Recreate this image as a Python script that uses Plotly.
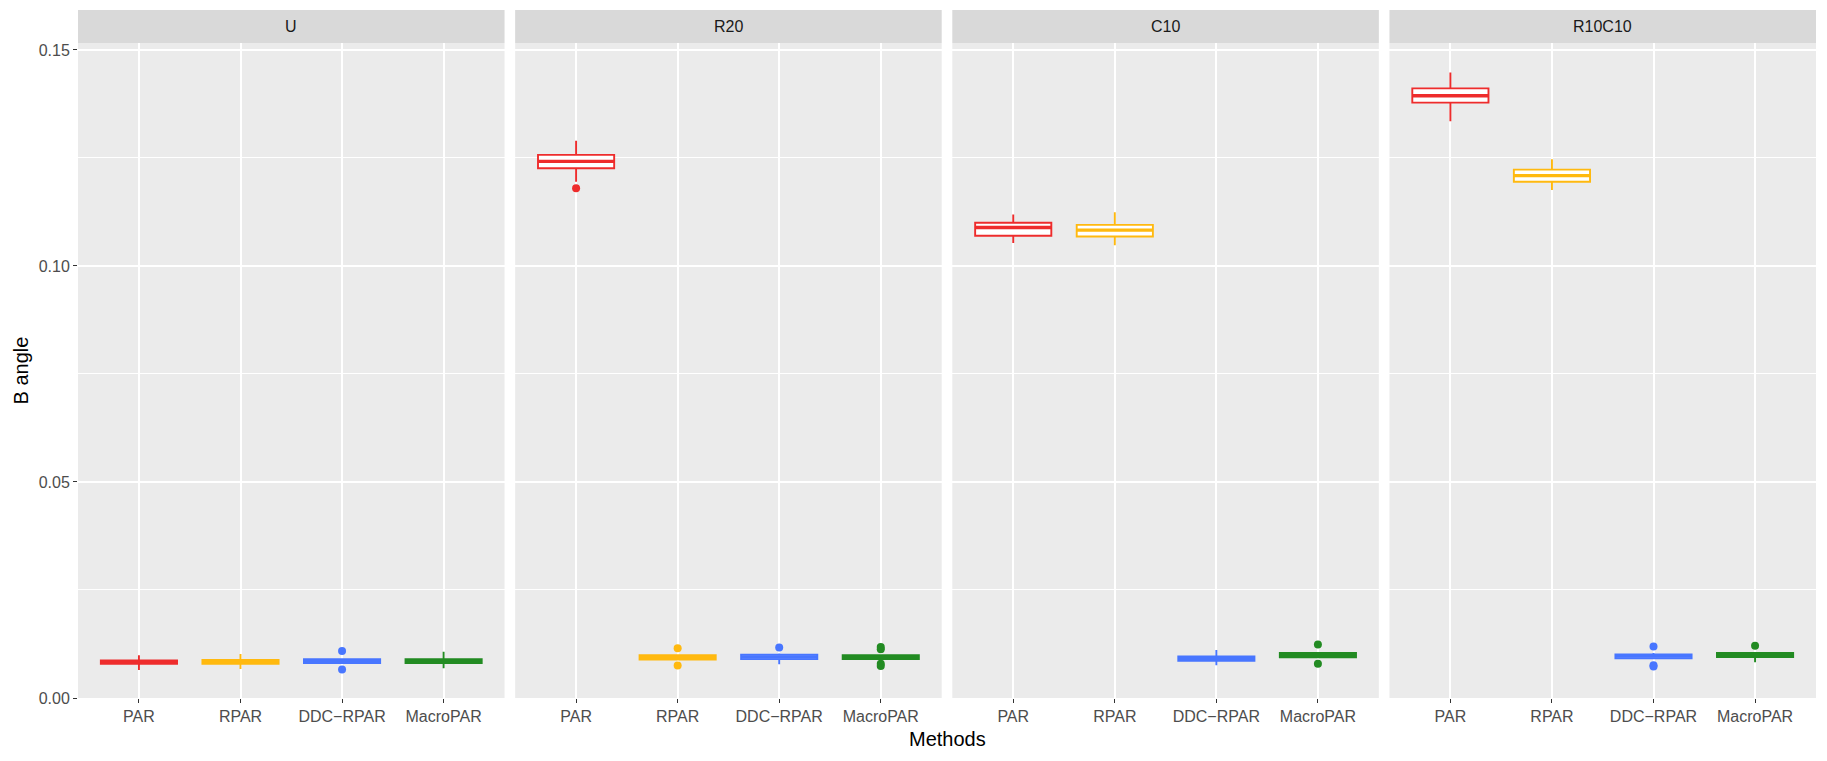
import plotly.graph_objects as go

panels = ["U", "R20", "C10", "R10C10"]
methods = ["PAR", "RPAR", "DDC\u2212RPAR", "MacroPAR"]
colors = ["#EE2C2C", "#FFB90F", "#4876FF", "#228B22"]

# box statistics per panel, order: PAR, RPAR, DDC-RPAR, MacroPAR
lower = {
    "U":      [0.0065, 0.0067, 0.0080, 0.0069],
    "R20":    [0.1195, 0.0088, 0.0078, 0.0089],
    "C10":    [0.1053, 0.1048, 0.0076, 0.0094],
    "R10C10": [0.1335, 0.1176, 0.0090, 0.0083],
}
q1 = {
    "U":      [0.0079, 0.0079, 0.0081, 0.0081],
    "R20":    [0.1226, 0.0089, 0.0090, 0.0090],
    "C10":    [0.1070, 0.1068, 0.0086, 0.0094],
    "R10C10": [0.1378, 0.1195, 0.0092, 0.0095],
}
median = {
    "U":      [0.0083, 0.0083, 0.0086, 0.0086],
    "R20":    [0.1242, 0.0094, 0.0095, 0.0094],
    "C10":    [0.1089, 0.1083, 0.0091, 0.0099],
    "R10C10": [0.1394, 0.1209, 0.0097, 0.0100],
}
q3 = {
    "U":      [0.0087, 0.0088, 0.0090, 0.0090],
    "R20":    [0.1257, 0.0099, 0.0100, 0.0099],
    "C10":    [0.1100, 0.1095, 0.0096, 0.0104],
    "R10C10": [0.1411, 0.1223, 0.0101, 0.0104],
}
upper = {
    "U":      [0.0099, 0.0102, 0.0092, 0.0107],
    "R20":    [0.1290, 0.0100, 0.0103, 0.0101],
    "C10":    [0.1119, 0.1124, 0.0111, 0.0106],
    "R10C10": [0.1448, 0.1247, 0.0104, 0.0106],
}
outliers = {
    "U":      [[], [], [0.0109, 0.0066], []],
    "R20":    [[0.1180], [0.0115, 0.0075], [0.0117], [0.0118, 0.0113, 0.0079, 0.0074]],
    "C10":    [[], [], [], [0.0124, 0.0079]],
    "R10C10": [[], [], [0.0119, 0.0076, 0.0073], [0.0121]],
}

y_ticks = [0.0, 0.05, 0.10, 0.15]
y_tick_text = ["0.00", "0.05", "0.10", "0.15"]
y_minor = [0.025, 0.075, 0.125]

W, H = 1827, 761
ML, MR, MT, MB = 70, 19, 35, 71
plot_w = W - ML - MR
plot_h = H - MT - MB
gap = 10.6
panel_w = (plot_w - 3 * gap) / 4
strip_h = 33

FONT = "Liberation Sans, Arial, sans-serif"

fig = go.Figure()
layout = {}
shapes = []
annotations = []

for i, p in enumerate(panels):
    ax = "" if i == 0 else str(i + 1)
    xref = "x" + ax
    yref = "y" + ax
    for j, m in enumerate(methods):
        fig.add_trace(go.Box(
            x=[m], q1=[q1[p][j]], median=[median[p][j]], q3=[q3[p][j]],
            lowerfence=[lower[p][j]], upperfence=[upper[p][j]],
            width=0.75, whiskerwidth=0,
            fillcolor="white", line=dict(color=colors[j], width=1.9),
            boxpoints=False, showlegend=False, hoverinfo="skip",
            xaxis=xref, yaxis=yref,
        ))
        # fattened median line (as in ggplot)
        md = median[p][j]
        fig.add_trace(go.Box(
            x=[m], q1=[md], median=[md], q3=[md], lowerfence=[md], upperfence=[md],
            width=0.75, whiskerwidth=0, fillcolor=colors[j],
            line=dict(color=colors[j], width=3.4),
            boxpoints=False, showlegend=False, hoverinfo="skip",
            xaxis=xref, yaxis=yref,
        ))
        if outliers[p][j]:
            fig.add_trace(go.Scatter(
                x=[m] * len(outliers[p][j]), y=outliers[p][j], mode="markers",
                marker=dict(color=colors[j], size=8, line=dict(width=0)),
                showlegend=False, hoverinfo="skip", xaxis=xref, yaxis=yref,
            ))
    x0 = min(1.0, i * (panel_w + gap) / plot_w)
    x1 = min(1.0, (i * (panel_w + gap) + panel_w) / plot_w)
    layout["xaxis" + ax] = dict(
        domain=[x0, x1], anchor=yref, type="category",
        categoryorder="array", categoryarray=methods,
        range=[-0.6, 3.6], showgrid=True, gridcolor="white", gridwidth=2,
        ticks="outside", ticklen=4, tickcolor="#333333", tickwidth=1.4,
        tickfont=dict(family=FONT, size=16, color="#4D4D4D"),
        showline=False, zeroline=False, fixedrange=True,
    )
    layout["yaxis" + ax] = dict(
        domain=[0, 1], anchor=xref, range=[0, 0.1516],
        tickvals=y_ticks, ticktext=y_tick_text, showticklabels=(i == 0),
        ticks="outside" if i == 0 else "", ticklen=4, tickcolor="#333333", tickwidth=1.4,
        tickfont=dict(family=FONT, size=16, color="#4D4D4D"),
        showgrid=True, gridcolor="white", gridwidth=2,
        minor=dict(tickvals=y_minor, showgrid=True, gridcolor="white", gridwidth=1, ticks=""),
        zeroline=False, showline=False, fixedrange=True,
    )
    if i > 0:
        layout["yaxis" + ax]["matches"] = "y"
    # panel background
    shapes.append(dict(type="rect", xref="paper", yref="paper", x0=x0, x1=x1, y0=0, y1=1,
                       fillcolor="#EBEBEB", line=dict(width=0), layer="below"))
    # strip
    shapes.append(dict(type="rect", xref="paper", yref="paper", x0=x0, x1=x1, y0=1,
                       y1=1 + strip_h / plot_h, fillcolor="#D9D9D9", line=dict(width=0)))
    annotations.append(dict(text=p, xref="paper", yref="paper", x=(x0 + x1) / 2,
                            y=1 + strip_h / plot_h / 2, showarrow=False, xanchor="center",
                            yanchor="middle", font=dict(family=FONT, size=16, color="#1A1A1A")))

annotations.append(dict(text="Methods", xref="paper", yref="paper", x=0.5, y=-(731 - MT - plot_h) / plot_h,
                        showarrow=False, xanchor="center", yanchor="middle",
                        font=dict(family=FONT, size=20, color="black")))
annotations.append(dict(text="B angle", xref="paper", yref="paper", x=-(ML - 12) / plot_w, y=0.5,
                        textangle=-90, showarrow=False, xanchor="center", yanchor="middle",
                        font=dict(family=FONT, size=20, color="black")))

fig.update_layout(
    width=W, height=H, margin=dict(l=ML, r=MR, t=MT, b=MB),
    paper_bgcolor="white", plot_bgcolor="rgba(0,0,0,0)",
    shapes=shapes, annotations=annotations, boxmode="overlay",
    **layout,
)

fig.write_html("out.html")
